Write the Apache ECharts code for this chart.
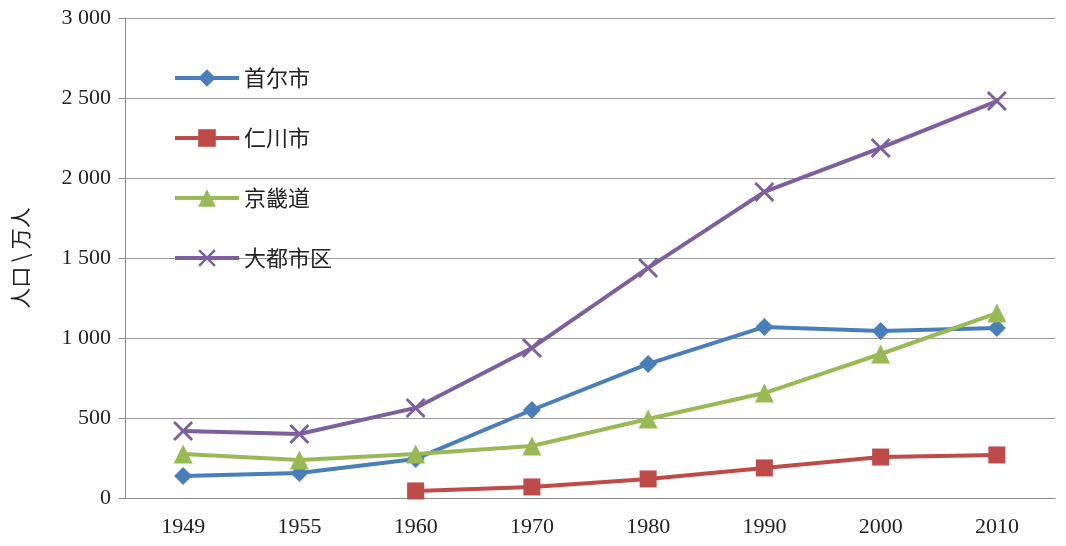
<!DOCTYPE html>
<html><head><meta charset="utf-8">
<script src="https://cdn.jsdelivr.net/npm/echarts@6/dist/echarts.min.js"></script>
<style>html,body{margin:0;background:#fff}#c{width:1066px;height:546px}</style>
</head><body><div id="c"></div>
<script>
const years = ["1949", "1955", "1960", "1970", "1980", "1990", "2000", "2010"];
const seoul = [137, 156, 244, 550, 838, 1069, 1044, 1063];
const incheon = [null, null, 44, 69, 119, 188, 256, 269];
const gyeonggi = [275, 238, 275, 325, 494, 656, 900, 1156];
const metro = [419, 400, 563, 938, 1438, 1913, 2188, 2481];

const serif = "Liberation Serif";
const cjk = "Noto Sans CJK SC";
const cross = "path://M0,1L1,0L5,4L9,0L10,1L6,5L10,9L9,10L5,6L1,10L0,9L4,5Z";
const mk = (name, data, color, symbol, size) => ({
  name, data, type: "line", symbol, symbolSize: size,
  lineStyle: { color, width: 4 }, itemStyle: { color }, connectNulls: false
});
const chart = echarts.init(document.getElementById("c"));
chart.setOption({
  animation: false,
  grid: { left: 125, right: 11, top: 18, bottom: 48 },
  legend: {
    orient: "vertical", left: 168, top: 62, itemGap: 38, itemWidth: 64, itemHeight: 22,
    lineStyle: { width: 4 },
    textStyle: { fontFamily: cjk, fontSize: 22, color: "#222" },
    data: ["首尔市", "仁川市", "京畿道", "大都市区"]
  },
  xAxis: {
    type: "category", data: years, boundaryGap: true,
    axisLine: { lineStyle: { color: "#888" } },
    axisTick: { length: 8, lineStyle: { color: "#888" } },
    axisLabel: { fontFamily: serif, fontSize: 22, color: "#222", margin: 18 }
  },
  yAxis: {
    type: "value", min: 0, max: 3000, interval: 500,
    name: "人口 \\ 万人", nameLocation: "middle", nameGap: 94,
    nameTextStyle: { fontFamily: cjk, fontSize: 21, color: "#222" },
    axisLine: { show: true, lineStyle: { color: "#888" } },
    axisTick: { show: true, length: 6, lineStyle: { color: "#888" } },
    splitLine: { lineStyle: { color: "#999" } },
    axisLabel: {
      fontFamily: serif, fontSize: 22, color: "#222", margin: 14,
      formatter: v => v >= 1000 ? Math.floor(v / 1000) + " " + String(v % 1000).padStart(3, "0") : String(v)
    }
  },
  series: [
    mk("首尔市", seoul, "#4a7ebb", "diamond", 18),
    mk("仁川市", incheon, "#be4b48", "rect", 17),
    mk("京畿道", gyeonggi, "#98b954", "triangle", 19),
    mk("大都市区", metro, "#7d5fa0", cross, 20)
  ]
});
</script></body></html>
